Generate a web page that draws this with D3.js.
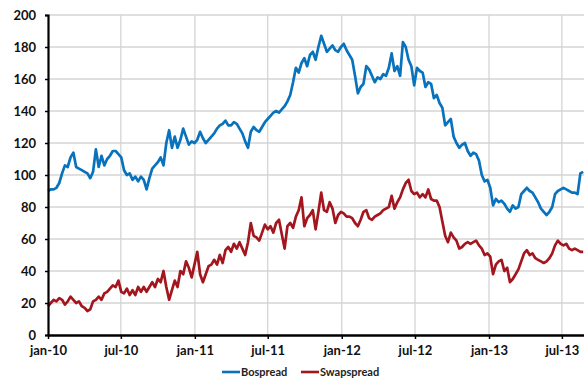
<!DOCTYPE html>
<html>
<head>
<meta charset="utf-8">
<script src="https://cdn.jsdelivr.net/npm/d3@7"></script>
<style>
  html, body { margin: 0; padding: 0; background: #fff; }
  svg { display: block; font-family: Lato, "Open Sans", sans-serif; font-weight: 700; }
</style>
</head>
<body>
<svg id="chart" width="584" height="383"></svg>
<script>
// Weekly observations, first one on 1 January 2010
const startDate = new Date(2010, 0, 1);

const bospread = [
  90, 91, 91, 92, 95, 101, 106, 105, 111, 114,
  105, 104, 103, 102, 101, 98, 102, 116, 105, 112,
  106, 110, 112, 115, 115, 113, 111, 103, 100, 101,
  97, 99, 96, 99, 97, 91, 98, 104, 106, 108,
  111, 106, 120, 128, 117, 124, 117, 122, 129, 124,
  119, 121, 120, 122, 127, 123, 120, 122, 124, 126,
  129, 131, 132, 134, 131, 131, 133, 132, 129, 126,
  121, 117, 127, 130, 128, 127, 130, 133, 135, 137,
  139, 140, 139, 141, 143, 146, 150, 158, 167, 164,
  170, 173, 168, 175, 177, 172, 180, 187, 182, 177,
  179, 181, 178, 177, 180, 182, 178, 175, 172, 162,
  151, 155, 157, 168, 166, 162, 158, 161, 160, 163,
  162, 167, 176, 165, 168, 162, 183, 180, 172, 168,
  156, 167, 165, 164, 155, 158, 157, 148, 150, 145,
  142, 131, 133, 135, 124, 120, 117, 119, 120, 115,
  112, 114, 113, 109, 100, 96, 97, 92, 81, 85,
  83, 84, 82, 79, 77, 81, 79, 80, 88, 90,
  92, 90, 89, 86, 83, 79, 77, 75, 77, 80,
  88, 90, 91, 92, 91, 90, 89, 89, 88, 101,
  102
];

const swapspread = [
  18, 20, 22, 21, 23, 22, 19, 21, 24, 22,
  20, 21, 18, 17, 15, 16, 21, 22, 24, 22,
  26, 27, 29, 31, 30, 34, 27, 26, 29, 25,
  28, 25, 30, 27, 30, 27, 30, 33, 30, 35,
  33, 40, 30, 22, 28, 34, 30, 40, 38, 46,
  42, 36, 44, 52, 38, 33, 38, 43, 44, 47,
  44, 50, 45, 53, 55, 52, 57, 54, 58, 54,
  50, 58, 70, 62, 61, 59, 64, 69, 66, 68,
  64, 70, 72, 63, 54, 68, 70, 67, 74, 78,
  86, 68, 73, 75, 78, 66, 77, 89, 78, 77,
  83, 79, 70, 75, 77, 76, 74, 74, 73, 70,
  68, 72, 77, 78, 73, 72, 74, 75, 76, 78,
  79, 80, 87, 79, 83, 86, 91, 95, 97, 90,
  88, 89, 86, 88, 86, 91, 85, 84, 84, 80,
  71, 62, 58, 64, 61, 59, 54, 55, 57, 58,
  57, 58, 59, 56, 54, 50, 51, 49, 38, 44,
  46, 47, 40, 42, 33, 35, 38, 41, 46, 51,
  53, 50, 51, 48, 47, 46, 45, 46, 48, 51,
  56, 59, 57, 56, 57, 54, 53, 54, 53, 52,
  52
];

const yTicks = [0, 20, 40, 60, 80, 100, 120, 140, 160, 180, 200];
const xTickDates = [
  new Date(2010, 0, 1), new Date(2010, 6, 1),
  new Date(2011, 0, 1), new Date(2011, 6, 1),
  new Date(2012, 0, 1), new Date(2012, 6, 1),
  new Date(2013, 0, 1), new Date(2013, 6, 1)
];
const monthNames = ["jan", "feb", "mar", "apr", "mei", "jun", "jul", "aug", "sep", "okt", "nov", "dec"];

const seriesNames = ["Bospread", "Swapspread"];
const seriesColors = ["#0872bd", "#a3161e"];

const svg = d3.select("#chart");
const W = 584, H = 383;
const margin = { left: 48, right: 0, top: 15, bottom: 48 };

const dateOf = i => d3.timeDay.offset(startDate, i * 7);
const endDate = new Date(2013, 7, 25);

const x = d3.scaleTime()
  .domain([startDate, endDate])
  .range([margin.left, W - margin.right]);
const y = d3.scaleLinear()
  .domain([0, 200])
  .range([H - margin.bottom, margin.top]);

// gridlines
svg.append("g")
  .selectAll("line")
  .data(yTicks.filter(v => v > 0))
  .join("line")
  .attr("x1", margin.left).attr("x2", W)
  .attr("y1", d => y(d)).attr("y2", d => y(d))
  .attr("stroke", "#d4d4d4").attr("stroke-width", 1.3);

svg.append("g")
  .selectAll("line")
  .data(xTickDates.slice(1))
  .join("line")
  .attr("x1", d => x(d)).attr("x2", d => x(d))
  .attr("y1", y(200)).attr("y2", y(0))
  .attr("stroke", "#d4d4d4").attr("stroke-width", 1.3);

// series
const series = [bospread, swapspread];
const line = d3.line()
  .x((d, i) => x(dateOf(i)))
  .y(d => y(d));

series.forEach((vals, k) => {
  svg.append("path")
    .datum(vals)
    .attr("d", line)
    .attr("fill", "none")
    .attr("stroke", seriesColors[k])
    .attr("stroke-width", 2.7)
    .attr("stroke-linejoin", "round");
});

const tickFont = g => g.selectAll(".tick text")
  .attr("fill", "#111")
  .style("font-size", "13px")
  .style("font-weight", 700)
  .style("font-family", "Lato, sans-serif");

// y axis
const yAxis = d3.axisLeft(y).tickValues(yTicks).tickSize(3).tickPadding(9);
const gy = svg.append("g")
  .attr("transform", `translate(${margin.left},0)`)
  .call(yAxis)
  .call(tickFont);
gy.select(".domain").attr("stroke", "#000").attr("stroke-width", 2.2);
gy.selectAll(".tick line").attr("stroke", "#000").attr("stroke-width", 1.5);

// x axis
const xAxis = d3.axisBottom(x)
  .tickValues(xTickDates)
  .tickSize(4)
  .tickSizeOuter(0)
  .tickPadding(7)
  .tickFormat(d => monthNames[d.getMonth()] + "-" + String(d.getFullYear()).slice(2));
const gx = svg.append("g")
  .attr("transform", `translate(0,${y(0)})`)
  .call(xAxis)
  .call(tickFont);
gx.select(".domain").attr("stroke", "#000").attr("stroke-width", 2.4);
gx.selectAll(".tick line").attr("stroke", "#000").attr("stroke-width", 1.5);

// legend
const legendItems = [
  { name: seriesNames[0], color: seriesColors[0], x0: 222 },
  { name: seriesNames[1], color: seriesColors[1], x0: 301 }
];
const legend = svg.append("g").attr("transform", "translate(0,372)");
legendItems.forEach(it => {
  legend.append("line")
    .attr("x1", it.x0).attr("x2", it.x0 + 18)
    .attr("y1", 0).attr("y2", 0)
    .attr("stroke", it.color).attr("stroke-width", 2.6);
  legend.append("text")
    .attr("x", it.x0 + 19).attr("y", 4)
    .attr("fill", "#222")
    .style("font-size", "11px")
    .style("font-weight", 700)
    .style("font-family", "Lato, sans-serif")
    .text(it.name);
});
</script>
</body>
</html>
